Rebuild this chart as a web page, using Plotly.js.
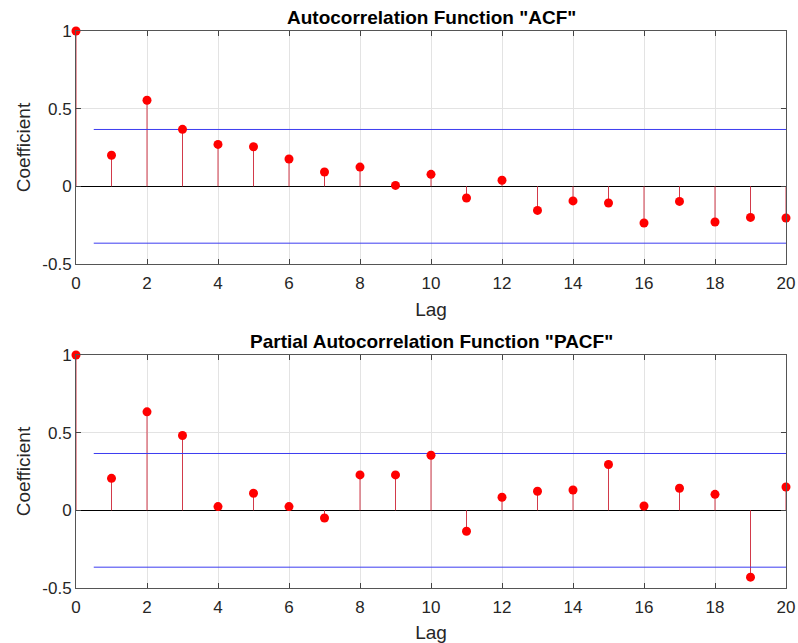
<!DOCTYPE html>
<html>
<head>
<meta charset="utf-8">
<script src="https://cdn.plot.ly/plotly-3.0.1.min.js"></script>
<style>html,body{margin:0;padding:0;background:#fff;}#chart{width:798px;height:643px;}</style>
</head>
<body>
<div id="chart"></div>
<script>
// ---- data ----
const lags = [0,1,2,3,4,5,6,7,8,9,10,11,12,13,14,15,16,17,18,19,20];
const acfValues = [1,0.20,0.554,0.367,0.27,0.255,0.176,0.092,0.124,0.006,0.077,-0.075,0.039,-0.155,-0.094,-0.107,-0.236,-0.097,-0.23,-0.20,-0.204];
const pacfValues = [1,0.206,0.634,0.482,0.024,0.11,0.024,-0.049,0.228,0.228,0.355,-0.135,0.084,0.123,0.131,0.295,0.028,0.142,0.103,-0.43,0.15];
const boundLags = [0.5, 20];
const acfBound = 0.366;
const pacfBound = 0.366;
const xTicks = [0,2,4,6,8,10,12,14,16,18,20];
const yTicks = [-0.5,0,0.5,1];
const yTickText = ['-0.5','0','0.5','1'];
const titles = ['Autocorrelation Function "ACF"', 'Partial Autocorrelation Function "PACF"'];
const xLabel = 'Lag';
const yLabel = 'Coefficient';

// ---- build ----
function stems(vals){
  const x=[], y=[];
  lags.forEach((l,i)=>{ x.push(l,l,null); y.push(0,vals[i],null); });
  return {x,y};
}
const stemColor = '#d23a4a';
const markerColor = '#ff0000';
const boundColor = 'rgb(60,60,240)';
const traces = [];
[[acfValues,acfBound,'x','y'],[pacfValues,pacfBound,'x2','y2']].forEach(([vals,b,xa,ya])=>{
  const s = stems(vals);
  traces.push({x:s.x,y:s.y,xaxis:xa,yaxis:ya,mode:'lines',line:{color:stemColor,width:1},hoverinfo:'skip'});
  traces.push({x:boundLags,y:[b,b],xaxis:xa,yaxis:ya,mode:'lines',line:{color:boundColor,width:1},hoverinfo:'skip'});
  traces.push({x:boundLags,y:[-b,-b],xaxis:xa,yaxis:ya,mode:'lines',line:{color:boundColor,width:1},hoverinfo:'skip'});
  traces.push({x:lags,y:vals,xaxis:xa,yaxis:ya,mode:'markers',marker:{color:markerColor,size:9},cliponaxis:false});
});

const font = {family:'Liberation Sans, Arial, sans-serif', color:'#262626'};
function xaxis(anchor){
  return {anchor:anchor, range:[0,20], tickvals:xTicks, ticks:'inside', ticklen:5, tickcolor:'#444',
    showline:true, linecolor:'#555', linewidth:1, mirror:'ticks', showgrid:true, gridcolor:'#e3e3e3',
    zeroline:false, tickfont:{size:17, color:'#262626'}, ticklabelstandoff:4,
    title:{text:xLabel, font:{size:19, color:'#262626'}, standoff:10}};
}
function yaxis(anchor,domain){
  return {anchor:anchor, domain:domain, range:[-0.5,1], tickvals:yTicks, ticktext:yTickText, ticks:'inside', ticklen:5, tickcolor:'#444',
    showline:true, linecolor:'#555', linewidth:1, mirror:'ticks', showgrid:true, gridcolor:'#e3e3e3',
    zeroline:true, zerolinecolor:'#000', zerolinewidth:1, tickfont:{size:17, color:'#262626'},
    title:{text:yLabel, font:{size:19, color:'#262626'}, standoff:6}};
}
const layout = {
  width:798, height:643, showlegend:false,
  paper_bgcolor:'#fff', plot_bgcolor:'#fff', font:font,
  margin:{l:76, r:12, t:31, b:55},
  xaxis: xaxis('y'), yaxis: yaxis('x',[0.5817,1]),
  xaxis2: xaxis('y2'), yaxis2: yaxis('x2',[0,0.4183]),
  annotations:[
    {text:'<b>'+titles[0]+'</b>', xref:'paper', yref:'paper', x:0.5, y:1.0251, xanchor:'center', yanchor:'middle', showarrow:false, font:{size:19, color:'#000'}},
    {text:'<b>'+titles[1]+'</b>', xref:'paper', yref:'paper', x:0.5, y:0.4425, xanchor:'center', yanchor:'middle', showarrow:false, font:{size:19, color:'#000'}}
  ]
};
Plotly.newPlot('chart', traces, layout, {staticPlot:true, displayModeBar:false});
</script>
</body>
</html>
